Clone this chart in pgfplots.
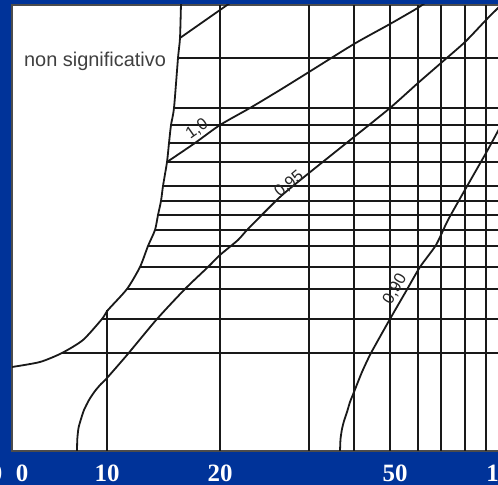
\documentclass[border=0pt]{standalone}
\usepackage{pgfplots}
\pgfplotsset{compat=1.18}
\usepackage{fontspec}
\setmainfont{Liberation Serif}
\newfontfamily\labelfont{Liberation Sans}
\definecolor{bg}{RGB}{0,51,153}
\begin{document}
\begin{tikzpicture}[x=1bp,y=1bp]
\fill[bg] (0,0) rectangle (498,485);
\useasboundingbox (0,0) rectangle (498,485);
\begin{axis}[at={(12bp,34bp)}, anchor=south west, scale only axis,
  width=508bp, height=446bp,
  xmin=12, xmax=520, ymin=34, ymax=480,
  axis background/.style={fill=white},
  axis line style={black!70, line width=1.4bp},
  xtick={22,107,220,395,505}, xticklabels={0,10,20,50,100},
  ytick=\empty, major tick length=0pt,
  xticklabel style={font=\fontsize{25}{25}\selectfont\bfseries, text=white, inner sep=0pt, anchor=north, yshift=-13.5bp},
  gl/.style={black!90, solid, mark=none, line width=2.1bp},
  cv/.style={black!90, solid, mark=none, line width=1.8bp, smooth, tension=0.4},
]
% boundary of "non significativo" region
\addplot[cv] coordinates {(181,482) (180,447) (178,427) (174,377) (171,360) (169,342) (167,323) (163,299) (161,284) (158,270) (155,255) (148,239) (140,218) (127,196) (108,175) (102,166) (83,145) (62,132) (40,123) (12,118)};
% horizontal lines
\addplot[gl] coordinates {(178,427) (520,427)};
\addplot[gl] coordinates {(174,377) (520,377)};
\addplot[gl] coordinates {(171,360) (520,360)};
\addplot[gl] coordinates {(169,342) (520,342)};
\addplot[gl] coordinates {(167,323) (520,323)};
\addplot[gl] coordinates {(163,299) (520,299)};
\addplot[gl] coordinates {(161,284) (520,284)};
\addplot[gl] coordinates {(158,270) (520,270)};
\addplot[gl] coordinates {(155,255) (520,255)};
\addplot[gl] coordinates {(148,239) (520,239)};
\addplot[gl] coordinates {(140,218) (520,218)};
\addplot[gl] coordinates {(127,196) (520,196)};
\addplot[gl] coordinates {(102,166) (520,166)};
\addplot[gl] coordinates {(62,132) (520,132)};
% vertical lines
\addplot[gl] coordinates {(107,175) (107,34)};
\addplot[gl] coordinates {(220,34) (220,480)};
\addplot[gl] coordinates {(309,34) (309,480)};
\addplot[gl] coordinates {(354,34) (354,480)};
\addplot[gl] coordinates {(390,34) (390,480)};
\addplot[gl] coordinates {(418,34) (418,480)};
\addplot[gl] coordinates {(441,34) (441,480)};
\addplot[gl] coordinates {(465,34) (465,480)};
\addplot[gl] coordinates {(486,34) (486,480)};
% short upper curve
\addplot[cv] coordinates {(180,447) (230,482)};
% curve 1.0
\addplot[cv] coordinates {(167,323) (195,342) (220,360) (250,377) (280,395) (309,413) (354,441) (390,461) (416,476) (425,482)};
% curve 0.95
\addplot[cv] coordinates {(77,34) (77.3,46) (78.5,57) (81,66) (84,75) (89,85) (95,94) (101,101) (107,107) (127,130) (157,166) (185,196) (208,218) (220,230) (238,245) (248,256) (280,288) (309,312) (354,348) (390,377) (418,402) (441,422) (465,443) (486,465) (498,477) (505,484)};
% curve 0.90
\addplot[cv] coordinates {(340,34) (340.5,46) (342,56) (344,64) (347,73) (350,83) (354,93) (362,113) (371,132) (390,166) (405,192) (420,218) (436,240) (448,265) (466,297) (486,332) (498,354) (510,376)};
\node[font=\labelfont\fontsize{16.5}{16.5}\selectfont, text=black!85, rotate=35, inner sep=0.5pt] at (axis cs:197,356) {1,0};
\node[font=\labelfont\fontsize{16.5}{16.5}\selectfont, text=black!85, rotate=40, inner sep=0.5pt] at (axis cs:289,301) {0,95};
\node[font=\labelfont\fontsize{16.5}{16.5}\selectfont, text=black!85, rotate=60, inner sep=0.5pt] at (axis cs:395,196) {0,90};
\node[font=\labelfont\fontsize{20}{20}\selectfont, text=black!75, inner sep=1pt] at (axis cs:95,424) {non significativo};
\end{axis}
\node[font=\fontsize{25}{25}\selectfont\bfseries, text=white] at (-4,12) {0};
\end{tikzpicture}
\end{document}
